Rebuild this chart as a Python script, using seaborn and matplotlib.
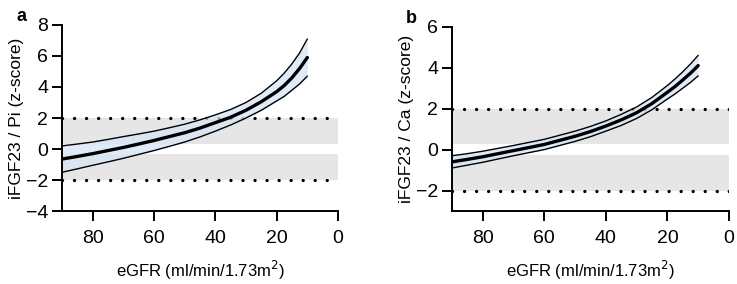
import matplotlib
matplotlib.use("Agg")
import matplotlib.pyplot as plt
import seaborn as sns
import pandas as pd

# eGFR grid (ml/min/1.73m2)
egfr = [90, 85, 80, 75, 70, 65, 60, 55, 50, 45, 40, 35, 30, 25, 20, 17.5, 15, 12.5, 10]

# panel a: iFGF23 / Pi z-score
pi_mean = [-0.65, -0.48, -0.3, -0.1, 0.1, 0.32, 0.55, 0.8, 1.05, 1.35, 1.7, 2.05, 2.5, 3.05, 3.7, 4.1, 4.6, 5.2, 5.9]
pi_upper = [0.2, 0.32, 0.45, 0.62, 0.8, 0.97, 1.15, 1.37, 1.6, 1.88, 2.2, 2.55, 3.0, 3.6, 4.4, 4.9, 5.5, 6.2, 7.1]
pi_lower = [-1.5, -1.28, -1.05, -0.83, -0.6, -0.35, -0.1, 0.17, 0.45, 0.78, 1.15, 1.55, 2.0, 2.5, 3.1, 3.4, 3.8, 4.2, 4.7]

# panel b: iFGF23 / Ca z-score
ca_mean = [-0.6, -0.48, -0.35, -0.2, -0.05, 0.1, 0.25, 0.45, 0.65, 0.88, 1.15, 1.45, 1.8, 2.25, 2.8, 3.08, 3.4, 3.73, 4.1]
ca_upper = [-0.3, -0.2, -0.08, 0.06, 0.2, 0.35, 0.5, 0.7, 0.9, 1.13, 1.4, 1.72, 2.08, 2.55, 3.13, 3.45, 3.8, 4.18, 4.6]
ca_lower = [-0.9, -0.76, -0.62, -0.46, -0.3, -0.15, 0.0, 0.2, 0.4, 0.63, 0.9, 1.18, 1.52, 1.95, 2.47, 2.72, 3.0, 3.28, 3.6]

x_ticks = [80, 60, 40, 20, 0]
ref_limits = [-2, 2]
pi_bands = [(0.35, 2), (-2, -0.35)]
ca_bands = [(0.27, 2), (-2, -0.27)]

sns.set_style("ticks")
plt.rcParams['font.family'] = ['Liberation Sans', 'DejaVu Sans']
plt.rcParams['text.color'] = 'black'
plt.rcParams['axes.labelcolor'] = 'black'
plt.rcParams['xtick.color'] = 'black'
plt.rcParams['ytick.color'] = 'black'
plt.rcParams['axes.edgecolor'] = 'black'


def draw_panel(ax, mean, upper, lower, bands, ylim, yticks, ylabel, letter):
    df = pd.DataFrame({'egfr': egfr, 'mean': mean, 'upper': upper, 'lower': lower})

    # grey normal range + dotted limits
    for lo, hi in bands:
        ax.axhspan(lo, hi, color='#e6e6e6', lw=0, zorder=0)
    for y in ref_limits:
        ax.axhline(y, color='black', lw=2.4, ls=(0, (0.01, 3.6)),
                   dash_capstyle='round', zorder=1)

    # confidence band
    ax.fill_between(df['egfr'], df['lower'], df['upper'], color='#d6e5f7',
                    alpha=0.75, lw=0, zorder=2)
    sns.lineplot(data=df, x='egfr', y='upper', ax=ax, color='black', lw=1.0, zorder=3)
    sns.lineplot(data=df, x='egfr', y='lower', ax=ax, color='black', lw=1.0, zorder=3)
    sns.lineplot(data=df, x='egfr', y='mean', ax=ax, color='black', lw=2.4, zorder=4)

    ax.set_xlim(90, 0)
    ax.set_ylim(*ylim)
    ax.set_xticks(x_ticks)
    ax.set_yticks(yticks)
    ax.set_xlabel('eGFR (ml/min/1.73m$^2$)', fontsize=12, labelpad=8)
    ax.set_ylabel(ylabel, fontsize=12.5, labelpad=1)
    ax.tick_params(labelsize=14, length=7, width=1.4, pad=3)
    ax.tick_params(axis='x', pad=7)
    for s in ['left', 'bottom']:
        ax.spines[s].set_linewidth(1.4)
    sns.despine(ax=ax)
    ax.text(-0.165, 1.09, letter, transform=ax.transAxes, fontsize=13,
            fontweight='bold', va='top')


fig = plt.figure(figsize=(7.37, 2.84), dpi=100)
ax_a = fig.add_axes([0.0841, 0.257, 0.3745, 0.655])
ax_b = fig.add_axes([0.6133, 0.257, 0.3758, 0.649])

draw_panel(ax_a, pi_mean, pi_upper, pi_lower, pi_bands, (-4, 8), [-4, -2, 0, 2, 4, 6, 8],
           'iFGF23 / Pi (z-score)', 'a')
draw_panel(ax_b, ca_mean, ca_upper, ca_lower, ca_bands, (-3, 6), [-2, 0, 2, 4, 6],
           'iFGF23 / Ca (z-score)', 'b')

fig.savefig('out.png', dpi=100)
